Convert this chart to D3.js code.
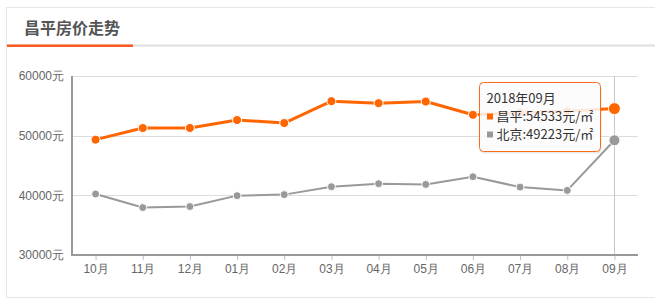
<!DOCTYPE html>
<html>
<head>
<meta charset="utf-8">
<script src="https://cdn.jsdelivr.net/npm/d3@7"></script>
<style>
  body { margin: 0; background: #fff; }
  svg { display: block; font-family: "Noto Sans CJK SC", "Noto Sans", sans-serif; }
</style>
</head>
<body>
<div id="chart-area"></div>
<script>
// data
const months = ['10月', '11月', '12月', '01月', '02月', '03月', '04月', '05月', '06月', '07月', '08月', '09月']
const changping = [49330, 51280, 51290, 52620, 52120, 55780, 55450, 55720, 53500, 53870, 54100, 54533]
const beijing = [40220, 37950, 38120, 39950, 40120, 41450, 41950, 41830, 43120, 41380, 40830, 49223]
const yTicks = [30000, 40000, 50000, 60000]
const title = '昌平房价走势'
const hoverLabel = '2018年09月'

const W = 655, H = 307
const PLOT = { LEFT: 72, RIGHT: 638, TOP: 76, BOTTOM: 255 }
const ORANGE = '#ff6600', GRAY = '#999999'

const svg = d3.select('#chart-area').append('svg')
  .attr('width', W)
  .attr('height', H)

// card frame
svg.append('rect')
  .attr('x', 6.5).attr('y', 7.5)
  .attr('width', W).attr('height', 290)
  .attr('fill', '#fff')
  .attr('stroke', '#e6e6e6')

// title + underline
svg.append('text')
  .attr('x', 24).attr('y', 34)
  .attr('font-size', '16px')
  .attr('font-weight', 'bold')
  .attr('fill', '#555')
  .text(title)

svg.append('rect')
  .attr('x', 7).attr('y', 44.5)
  .attr('width', W - 7).attr('height', 2)
  .attr('fill', '#dddddd')
svg.append('rect')
  .attr('x', 7).attr('y', 44.5)
  .attr('width', 126).attr('height', 2.5)
  .attr('fill', '#ff5a1f')

// scales
const x = d3.scalePoint()
  .domain(months)
  .range([PLOT.LEFT, PLOT.RIGHT])
  .padding(0.5)

const y = d3.scaleLinear()
  .domain([30000, 60000])
  .range([PLOT.BOTTOM, PLOT.TOP])

// gridlines
svg.append('g')
  .selectAll('line')
  .data(yTicks.slice(1))
  .enter().append('line')
  .attr('x1', PLOT.LEFT).attr('x2', PLOT.RIGHT)
  .attr('y1', d => Math.round(y(d)) + 0.5)
  .attr('y2', d => Math.round(y(d)) + 0.5)
  .attr('stroke', '#dcdcdc')

// hover pointer line
svg.append('line')
  .attr('x1', Math.round(x(months[11])) + 0.5)
  .attr('x2', Math.round(x(months[11])) + 0.5)
  .attr('y1', PLOT.TOP)
  .attr('y2', PLOT.BOTTOM)
  .attr('stroke', '#c8c8c8')

// axes
const yAxisCall = d3.axisLeft(y)
  .tickValues(yTicks)
  .tickSize(0)
  .tickPadding(8)
  .tickFormat(d => d + '元')
const yAxis = svg.append('g')
  .attr('transform', `translate(${PLOT.LEFT}, 0)`)
  .call(yAxisCall)
yAxis.select('.domain').remove()
yAxis.selectAll('text')
  .attr('font-size', '12px')
  .attr('fill', '#666')
  .attr('font-family', null)

const xAxisCall = d3.axisBottom(x)
  .tickSize(5)
  .tickPadding(4)
const xAxis = svg.append('g')
  .attr('transform', `translate(0, ${PLOT.BOTTOM})`)
  .call(xAxisCall)
xAxis.select('.domain').remove()
xAxis.selectAll('line').attr('stroke', '#a9c6de')
xAxis.selectAll('text')
  .attr('font-size', '12px')
  .attr('fill', '#666')
  .attr('font-family', null)

// axis lines
svg.append('line')
  .attr('x1', PLOT.LEFT).attr('x2', PLOT.LEFT)
  .attr('y1', PLOT.TOP).attr('y2', PLOT.BOTTOM + 1)
  .attr('stroke', '#999').attr('stroke-width', 2)
svg.append('line')
  .attr('x1', PLOT.LEFT - 1).attr('x2', PLOT.RIGHT)
  .attr('y1', PLOT.BOTTOM).attr('y2', PLOT.BOTTOM)
  .attr('stroke', '#999').attr('stroke-width', 2)

// series
const series = [
  { name: '昌平', values: changping, color: ORANGE, width: 3, r: 4.5, rh: 6 },
  { name: '北京', values: beijing, color: GRAY, width: 2, r: 4, rh: 5.5 }
]

const line = d3.line()
  .x((d, i) => x(months[i]))
  .y(d => y(d))

series.forEach(s => {
  svg.append('path')
    .datum(s.values)
    .attr('d', line)
    .attr('fill', 'none')
    .attr('stroke', s.color)
    .attr('stroke-width', s.width)
    .attr('stroke-linejoin', 'round')

  svg.append('g')
    .selectAll('circle')
    .data(s.values)
    .enter().append('circle')
    .attr('cx', (d, i) => x(months[i]))
    .attr('cy', d => y(d))
    .attr('r', (d, i) => i === months.length - 1 ? s.rh : s.r)
    .attr('fill', s.color)
    .attr('stroke', '#fff')
    .attr('stroke-width', 1)
})

// tooltip
const tip = svg.append('g').attr('transform', 'translate(479.5, 82.5)')
tip.append('rect')
  .attr('x', 1).attr('y', 2)
  .attr('width', 121).attr('height', 69)
  .attr('rx', 4)
  .attr('fill', 'rgba(0,0,0,0.08)')
tip.append('rect')
  .attr('width', 121).attr('height', 69)
  .attr('rx', 4)
  .attr('fill', 'rgba(255,255,255,0.86)')
  .attr('stroke', '#ff6a1a')

tip.append('text')
  .attr('x', 7).attr('y', 20)
  .attr('font-size', '13px')
  .attr('fill', '#333')
  .text(hoverLabel)

series.forEach((s, k) => {
  const cy = 34 + k * 18
  tip.append('rect')
    .attr('x', 7.5).attr('y', cy - 3)
    .attr('width', 6).attr('height', 6)
    .attr('fill', s.color)
  tip.append('text')
    .attr('x', 17).attr('y', cy + 4.5)
    .attr('font-size', '13px')
    .attr('fill', '#333')
    .text(`${s.name}:${s.values[s.values.length - 1]}元/㎡`)
})
</script>
</body>
</html>
